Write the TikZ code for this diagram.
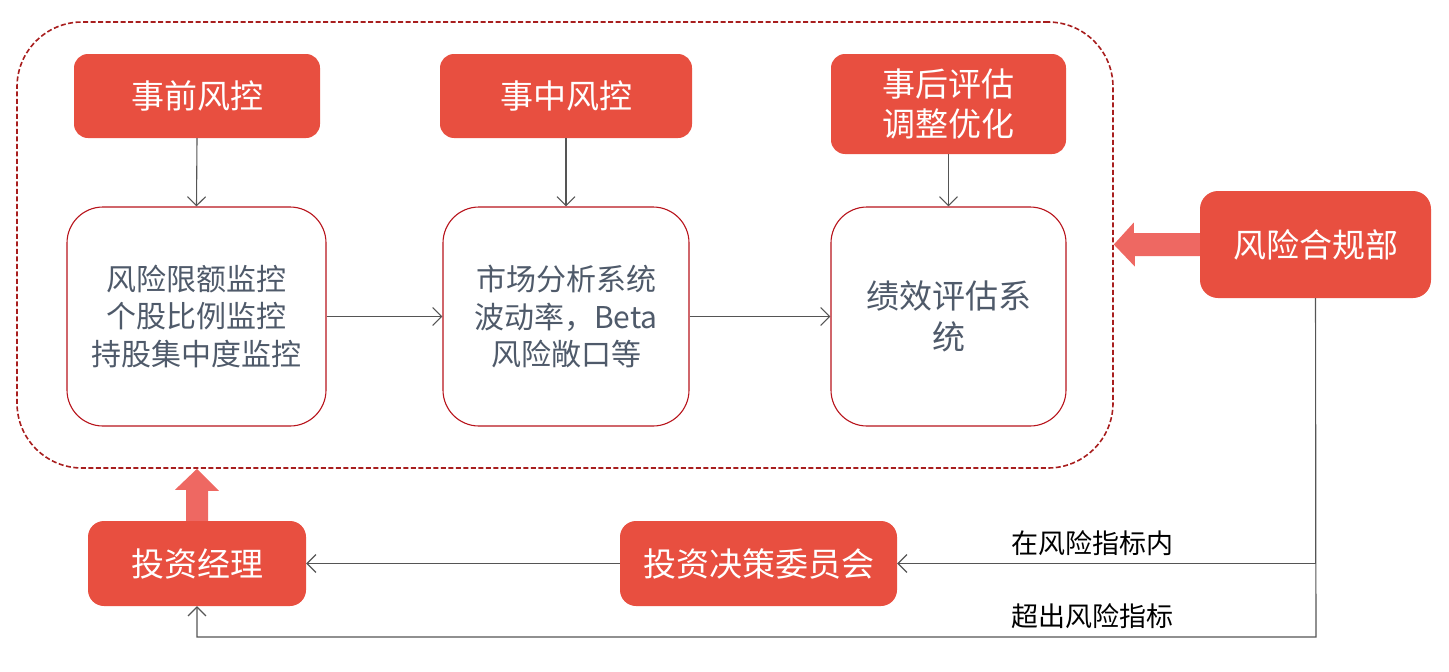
\documentclass[tikz,border=0pt]{standalone}
\usepackage{fontspec}
\setmainfont{Noto Sans CJK SC}
\usetikzlibrary{arrows.meta,calc,backgrounds}
\definecolor{redfill}{HTML}{E84F40}
\definecolor{bigarr}{HTML}{EE6862}
\definecolor{boxline}{HTML}{B8141C}
\definecolor{dashline}{HTML}{A81E1E}
\definecolor{graytext}{HTML}{4F5A6A}
\definecolor{conn}{HTML}{555555}
\tikzset{
  redbox/.style={rectangle, rounded corners=14pt, fill=redfill, text=white, align=center,
    font=\fontsize{33}{40}\selectfont, inner sep=0pt},
  whitebox/.style={rectangle, rounded corners=36pt, draw=boxline, line width=1.1pt, fill=white,
    text=graytext, align=center, font=\fontsize{30}{37.5}\selectfont, inner sep=0pt},
  frame/.style={rectangle, rounded corners=65pt, draw=dashline, line width=1.6pt,
    dash pattern=on 5pt off 2.5pt, inner sep=0pt},
  conn/.style={draw=conn, line width=1.1pt, -{Straight Barb[length=9pt,width=18pt,line width=1.1pt]}},
  lbl/.style={font=\fontsize{27}{30}\selectfont, text=black, inner sep=0pt},
  bigarrow/.style={fill=bigarr}
}
\begin{document}
\begin{tikzpicture}[x=1pt,y=-1pt]
\useasboundingbox (0,0) rectangle (1449,672);
\node[frame, minimum width=1096pt, minimum height=446pt] (frame) at (565,245) {};
\node[redbox, minimum width=246pt, minimum height=84pt] (pre) at (197,96) {事前风控};
\node[redbox, minimum width=252pt, minimum height=84pt] (mid) at (566,96) {事中风控};
\node[redbox, minimum width=235pt, minimum height=100pt] (post) at (948.5,104) {事后评估\\调整优化};
\node[whitebox, minimum width=259pt, minimum height=219pt] (b1) at (196.5,316.5) {风险限额监控\\个股比例监控\\持股集中度监控};
\node[whitebox, minimum width=246pt, minimum height=219pt] (b2) at (566,316.5) {市场分析系统\\波动率，Beta\\风险敞口等};
\node[whitebox, minimum width=235pt, minimum height=219pt, font=\fontsize{33}{41}\selectfont] (b3) at (948.5,316.5) {绩效评估系\\统};
\node[redbox, rounded corners=18pt, minimum width=231pt, minimum height=107pt] (risk) at (1315.5,244.5) {风险合规部};
\node[redbox, rounded corners=16pt, minimum width=218pt, minimum height=85pt] (mgr) at (197,563.5) {投资经理};
\node[redbox, rounded corners=16pt, minimum width=277pt, minimum height=85pt] (cmte) at (758.5,563.5) {投资决策委员会};
\coordinate (lowc) at (1316,637);
\begin{scope}[on background layer]
\fill[bigarrow] (risk.west) ++(0,-11.5) -- ++(-66,0) -- ++(0,-10.5) -- (frame.east |- risk.west)
  -- ++(21,22) -- ++(0,-10.5) -- ++(66,0) -- cycle;
\fill[bigarrow] (mgr.north) ++(-11,0) -- ++(0,-31) -- ++(-11,0) -- (mgr.north |- frame.south)
  -- ++(22,22) -- ++(-11,0) -- ++(0,31) -- cycle;
\end{scope}
\draw[conn] (pre.south) -- (b1.north);
\draw[conn] (mid.south) -- (b2.north);
\draw[conn] (post.south) -- (b3.north);
\draw[conn] (b1.east) -- (b2.west);
\draw[conn] (b2.east) -- (b3.west);
\draw[conn] (risk.south) |- (cmte.east);
\draw[conn] (risk.south) -- (lowc) -| (mgr.south);
\draw[conn] (cmte.west) -- (mgr.east);
\node[lbl] (in) at (1092,543) {在风险指标内};
\node[lbl] (out) at (1092,616) {超出风险指标};
\end{tikzpicture}
\end{document}
